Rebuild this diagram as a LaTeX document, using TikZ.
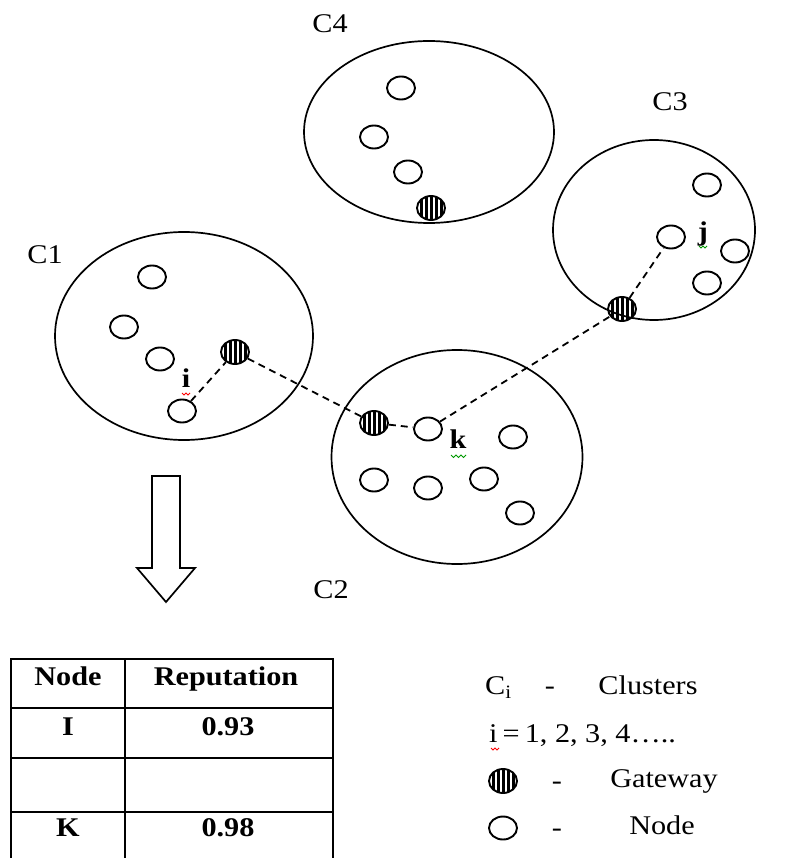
\documentclass[tikz,border=0pt]{standalone}
\usepackage{fontspec}
\setmainfont{Liberation Serif}
\usetikzlibrary{shapes.geometric}
\begin{document}
\begin{tikzpicture}[x=1pt,y=-1pt,
  txt/.style={font=\fontsize{27}{30}\selectfont, inner sep=0pt, text height=1.1em, text depth=0.2em, yshift=-4pt, transform shape, xscale=1.12},
  btxt/.style={txt, font=\fontsize{27}{30}\selectfont\bfseries},
  cluster/.style={draw, ellipse, line width=1.7pt, inner sep=0pt},
  snode/.style={draw, ellipse, line width=1.9pt, minimum width=28pt, minimum height=23pt, inner sep=0pt},
  gate/.style={draw, ellipse, line width=1.9pt, minimum width=28pt, minimum height=24pt, inner sep=0pt,
    path picture={
      \foreach \dx in {-10,-5,0,5,10}
        \draw[line width=3pt] ([xshift=\dx pt]path picture bounding box.north) -- ([xshift=\dx pt]path picture bounding box.south);
    }},
  link/.style={line width=1.8pt, dash pattern=on 7pt off 5pt},
  squig/.style={line width=0.8pt}
]
\useasboundingbox (0,0) rectangle (795,858);

% clusters
\node[cluster, minimum width=258pt, minimum height=208pt] (c1) at (184,336) {};
\node[cluster, minimum width=250pt, minimum height=182pt] (c4) at (429,132) {};
\node[cluster, minimum width=202pt, minimum height=180pt] (c3) at (654,230) {};
\node[cluster, minimum width=251pt, minimum height=214pt] (c2) at (457,457) {};

\node[txt] (lc1) at (45,255) {C1};
\node[txt] (lc4) at (330,24) {C4};
\node[txt] (lc3) at (670,102) {C3};
\node[txt] (lc2) at (331,590) {C2};

% cluster C1
\node[snode] (a1) at (152,277) {};
\node[snode] (a2) at (124,327) {};
\node[snode] (a3) at (160,359) {};
\node[snode] (ni) at (182,411) {};
\node[gate]  (g1) at (235,352) {};
\node[btxt] (li) at (186,379) {i};

% cluster C4
\node[snode] (b1) at (401,88) {};
\node[snode] (b2) at (374,137) {};
\node[snode] (b3) at (408,172) {};
\node[gate]  (g4) at (431,208) {};

% cluster C3
\node[snode] (d1) at (707,185) {};
\node[snode] (nj) at (671,237) {};
\node[snode] (d3) at (735,251) {};
\node[snode] (d4) at (707,283) {};
\node[gate]  (g3) at (622,309) {};
\node[btxt] (lj) at (703,232) {j};

% cluster C2
\node[gate]  (g2) at (374,423) {};
\node[snode] (nk) at (428,429) {};
\node[btxt] (lk) at (458,440) {k};
\node[snode] (e1) at (513,437) {};
\node[snode] (e2) at (374,480) {};
\node[snode] (e3) at (428,488) {};
\node[snode] (e4) at (484,479) {};
\node[snode] (e5) at (520,513) {};

% spell-check marks under the labels
\draw[squig, red] (182,393) -- ++(2,2) -- ++(2,-2) -- ++(2,2) -- ++(2,-2);
\draw[squig, green!60!black] (451,455) -- ++(2.5,2.5) -- ++(2.5,-2.5) -- ++(2.5,2.5) -- ++(2.5,-2.5) -- ++(2.5,2.5) -- ++(2.5,-2.5);
\draw[squig, green!60!black] (699,246) -- ++(2,2) -- ++(2,-2) -- ++(2,2) -- ++(2,-2);

% communication path
\draw[link] (ni) -- (g1);
\draw[link] (g1) -- (g2);
\draw[link] (g2) -- (nk);
\draw[link] (nk) -- (g3);
\draw[link] (g3) -- (nj);

% hollow arrow
\draw[line width=1.7pt, line join=miter] (152,476) -- (180,476) -- (180,568) -- (195,568) -- (166,602) -- (137,568) -- (152,568) -- cycle;

% reputation table
\draw[line width=1.8pt] (11,858) -- (11,659) -- (333,659) -- (333,858);
\draw[line width=1.8pt] (125,659) -- (125,858);
\draw[line width=1.8pt] (11,708) -- (333,708);
\draw[line width=1.8pt] (11,758) -- (333,758);
\draw[line width=1.8pt] (11,812) -- (333,812);
\node[btxt] (th1) at (68,677) {Node};
\node[btxt] (th2) at (226,677) {Reputation};
\node[btxt] (r1a) at (68,727) {I};
\node[btxt] (r1b) at (228,727) {0.93};
\node[btxt] (r3a) at (68,828) {K};
\node[btxt] (r3b) at (228,828) {0.98};

% legend
\node[txt, anchor=west] (lg1) at (485,686) {C\textsubscript{i}};
\node[txt] (lg1d) at (550,686) {-};
\node[txt] (lg1t) at (648,686) {Clusters};
\node[txt, anchor=west] (lg2) at (489,734) {i\,=\,1, 2, 3, 4…..};
\draw[squig, red] (491,748) -- ++(2,2) -- ++(2,-2) -- ++(2,2) -- ++(2,-2);
\node[gate] (lgg) at (503,781) {};
\node[txt] (lggd) at (557,781) {-};
\node[txt] (lggt) at (664,779) {Gateway};
\node[snode] (lgn) at (503,828) {};
\node[txt] (lgnd) at (557,828) {-};
\node[txt] (lgnt) at (662,826) {Node};
\end{tikzpicture}
\end{document}
